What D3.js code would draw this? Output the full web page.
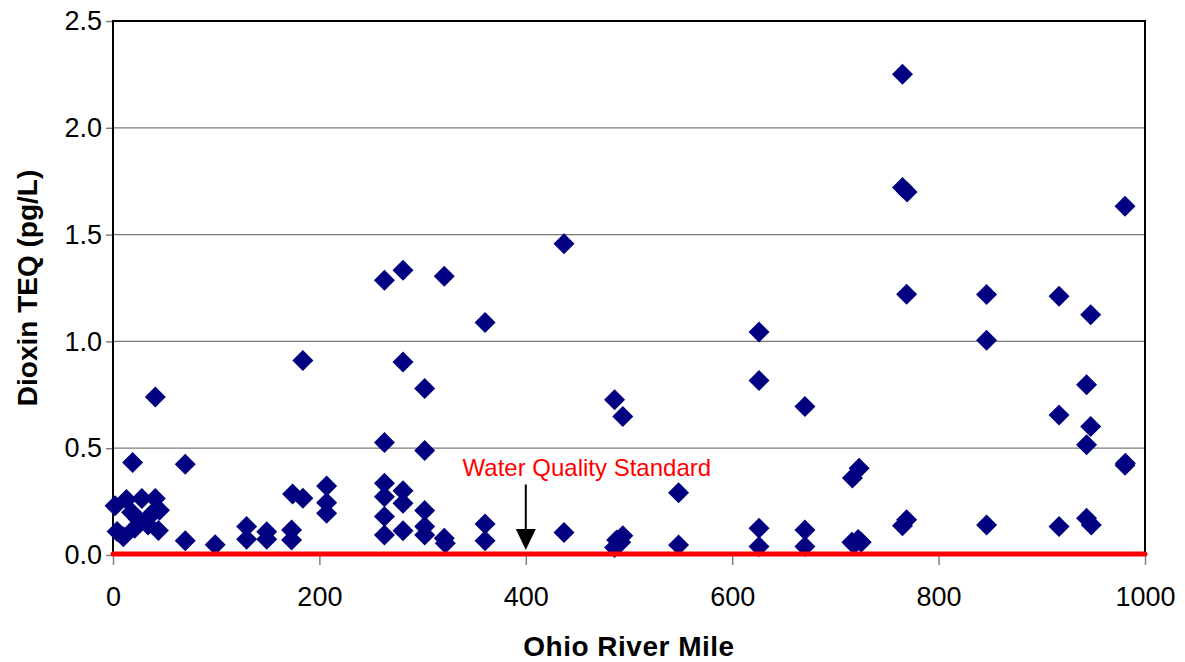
<!DOCTYPE html>
<html>
<head>
<meta charset="utf-8">
<script src="https://cdn.jsdelivr.net/npm/d3@7"></script>
<style>
  body { margin: 0; background: #fff; }
  svg text { font-family: "Liberation Sans", Arial, sans-serif; }
</style>
</head>
<body>
<div id="chart"></div>
<script>
// sample locations (Ohio River mile) and measured dioxin TEQ (pg/L)
var riverMile = [2, 13, 28, 41, 45, 4, 10, 24, 21, 34, 44, 18, 37, 41, 19,
    70, 70, 99, 129.5, 129.5, 149, 149, 174, 184, 173, 173, 207, 207, 207, 184,
    263, 281, 321, 281, 302, 263, 302, 263, 263, 281, 281, 263, 263, 281, 302,
    302, 302, 321, 322, 437, 360.5, 486, 494, 548, 360.5, 360.5, 437, 486, 488,
    494, 492, 548, 626, 626, 670.5, 723, 716.5, 626, 626, 670.5, 670.5, 716,
    718, 722, 725, 765, 765, 769.5, 769, 769, 765, 980.6, 846.5, 916.7, 947.4,
    846.5, 943.4, 916.7, 947.4, 943.4, 980.6, 981, 846.5, 916.7, 943.4, 948];
var dioxinTeq = [0.23, 0.26, 0.265, 0.265, 0.21, 0.11, 0.085, 0.17, 0.125, 0.14,
    0.115, 0.2, 0.19, 0.74, 0.433, 0.425, 0.067, 0.048, 0.133, 0.074, 0.109,
    0.074, 0.285, 0.266, 0.117, 0.07, 0.323, 0.245, 0.195, 0.911, 1.286, 1.333,
    1.305, 0.903, 0.78, 0.527, 0.489, 0.336, 0.273, 0.301, 0.242, 0.18, 0.094,
    0.114, 0.208, 0.133, 0.094, 0.078, 0.055, 1.457, 1.089, 0.727, 0.648, 0.292,
    0.145, 0.067, 0.105, 0.035, 0.07, 0.09, 0.06, 0.047, 1.044, 0.817, 0.695,
    0.406, 0.36, 0.125, 0.04, 0.117, 0.04, 0.06, 0.05, 0.072, 0.06, 2.251,
    1.721, 1.70, 1.221, 0.165, 0.137, 1.633, 1.219, 1.211, 1.125, 1.005, 0.797,
    0.656, 0.602, 0.516, 0.42, 0.43, 0.141, 0.133, 0.172, 0.141];

var xTicks = [0, 200, 400, 600, 800, 1000];
var yTicks = [0, 0.5, 1.0, 1.5, 2.0, 2.5];

var standardValue = 0.005;   // water quality standard, pg/L
var standardLabel = "Water Quality Standard";
var arrowMile = 400, arrowFrom = 0.33, arrowTo = 0.023;

var margin = {top: 21, right: 40, bottom: 107, left: 113},
    width = 1185 - margin.left - margin.right,
    height = 662 - margin.top - margin.bottom;

var svg = d3.select("#chart")
    .append("svg")
    .attr("width", width + margin.left + margin.right)
    .attr("height", height + margin.top + margin.bottom)
    .append("g")
    .attr("transform", "translate(" + margin.left + "," + margin.top + ")");

var x = d3.scaleLinear().domain([0, 1000]).range([0, width]);
var y = d3.scaleLinear().domain([0, 2.5]).range([height, 0]);

// horizontal gridlines
svg.append("g")
    .selectAll("line")
    .data(yTicks.slice(1, -1))
    .enter()
    .append("line")
    .attr("x1", 0)
    .attr("x2", width)
    .attr("y1", function (d) { return y(d); })
    .attr("y2", function (d) { return y(d); })
    .style("stroke", "#7a7a7a")
    .style("stroke-width", 1.2);

// X axis
var xAxis = svg.append("g")
    .attr("transform", "translate(0," + height + ")")
    .call(d3.axisBottom(x).tickValues(xTicks).tickFormat(d3.format("d"))
        .tickSize(10).tickSizeOuter(0));
xAxis.select(".domain").remove();
xAxis.selectAll(".tick line").style("stroke", "#808080").style("stroke-width", 1.5);
xAxis.selectAll(".tick text")
    .attr("y", 51).attr("dy", 0)
    .style("font-size", "27px").style("fill", "#000");

// Y axis
var yAxis = svg.append("g")
    .call(d3.axisLeft(y).tickValues(yTicks).tickFormat(d3.format(".1f"))
        .tickSize(7).tickPadding(4).tickSizeOuter(0));
yAxis.select(".domain").remove();
yAxis.selectAll(".tick line").style("stroke", "#808080").style("stroke-width", 1.5);
yAxis.selectAll(".tick text")
    .style("font-size", "27px").style("fill", "#000");

// plot frame (left, top, right)
svg.append("path")
    .attr("d", "M0," + height + "V0H" + width + "V" + height)
    .style("fill", "none")
    .style("stroke", "#000")
    .style("stroke-width", 2);

// axis titles
svg.append("text")
    .attr("x", width / 2)
    .attr("y", height + 101)
    .style("text-anchor", "middle")
    .style("font-size", "28px")
    .style("font-weight", "bold")
    .style("letter-spacing", "0.5px")
    .text("Ohio River Mile");

svg.append("text")
    .attr("transform", "rotate(-90)")
    .attr("x", -height / 2)
    .attr("y", 37 - margin.left)
    .style("text-anchor", "middle")
    .style("font-size", "28px")
    .style("font-weight", "bold")
    .text("Dioxin TEQ (pg/L)");

// dots (diamonds)
var pts = riverMile.map(function (m, i) { return {mile: m, teq: dioxinTeq[i]}; });
svg.append("g")
    .selectAll("path")
    .data(pts)
    .enter()
    .append("path")
    .attr("transform", function (d) {
        return "translate(" + x(d.mile) + "," + y(d.teq) + ")";
    })
    .attr("d", "M0,-10.5L10.5,0L0,10.5L-10.5,0Z")
    .style("fill", "#000080");

// water quality standard line
svg.append("line")
    .attr("x1", x(0))
    .attr("x2", x(1000))
    .attr("y1", y(standardValue))
    .attr("y2", y(standardValue))
    .style("stroke", "#ff0000")
    .style("stroke-width", 5)
    .style("stroke-linecap", "round");

// label and arrow
svg.append("text")
    .attr("x", x(arrowMile) + 61)
    .attr("y", 455)
    .style("text-anchor", "middle")
    .style("font-size", "24px")
    .style("fill", "#ff0000")
    .text(standardLabel);

svg.append("line")
    .attr("x1", x(arrowMile))
    .attr("x2", x(arrowMile))
    .attr("y1", y(arrowFrom))
    .attr("y2", y(arrowTo) - 18)
    .style("stroke", "#000")
    .style("stroke-width", 2);

svg.append("path")
    .attr("transform", "translate(" + x(arrowMile) + "," + y(arrowTo) + ")")
    .attr("d", "M0,0L-10,-21L10,-21Z")
    .style("fill", "#000");
</script>
</body>
</html>
